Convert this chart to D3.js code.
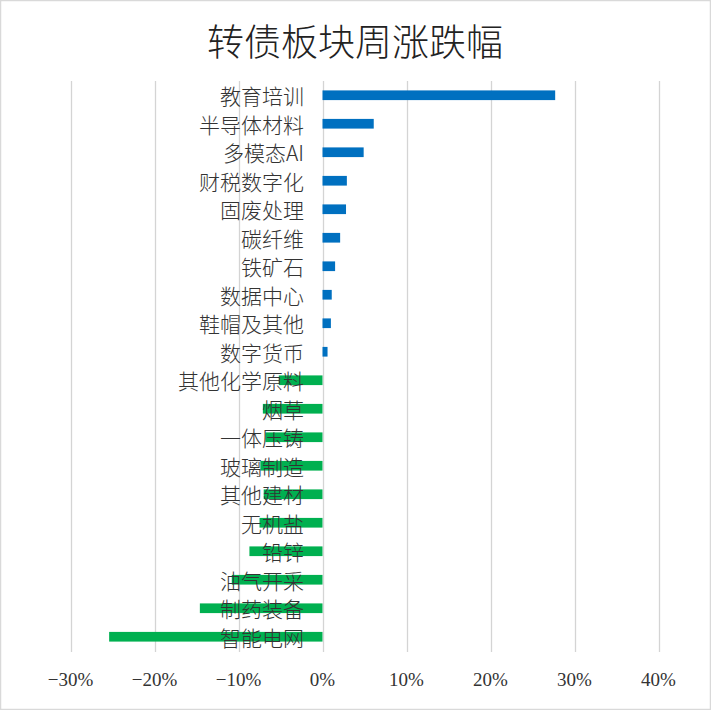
<!DOCTYPE html>
<html>
<head>
<meta charset="utf-8">
<script src="https://cdn.jsdelivr.net/npm/d3@7"></script>
<style>
  html, body { margin: 0; padding: 0; background: #fff; }
  svg { display: block; }
</style>
</head>
<body>
<svg id="chart" width="711" height="710"></svg>
<script>
const title = "转债板块周涨跌幅";
const categories = ["教育培训","半导体材料","多模态AI","财税数字化","固废处理","碳纤维","铁矿石","数据中心","鞋帽及其他","数字货币",
  "其他化学原料","烟草","一体压铸","玻璃制造","其他建材","无机盐","铅锌","油气开采","制药装备","智能电网"];
const values = [27.7, 6.1, 4.9, 2.9, 2.8, 2.1, 1.5, 1.1, 1.0, 0.6,
  -5.2, -7.1, -6.8, -7.4, -7.0, -7.5, -8.7, -10.8, -14.6, -25.4];
const tickValues = [-30, -20, -10, 0, 10, 20, 30, 40];

(function () {
const svg = d3.select("#chart");
const W = 711, H = 710;
const pLeft = 70.5, pRight = 658.5, pTop = 81, pBottom = 651;

svg.append("rect").attr("x", 0.5).attr("y", 0.5).attr("width", W - 1).attr("height", H - 1)
  .attr("fill", "#fff").attr("stroke", "#d9d9d9").attr("stroke-width", 1.5);

const x = d3.scaleLinear().domain([-30, 40]).range([pLeft, pRight]);
const y = d3.scaleBand().domain(categories).range([pTop, pBottom]).paddingInner(0.66).paddingOuter(0.33);

// gridlines
svg.append("g").selectAll("line").data(tickValues).join("line")
  .attr("x1", d => Math.round(x(d)) + 0.5).attr("x2", d => Math.round(x(d)) + 0.5)
  .attr("y1", pTop).attr("y2", pBottom + 1)
  .attr("stroke", "#d4d4d4").attr("stroke-width", 1.3);

// bars
svg.append("g").selectAll("rect").data(categories).join("rect")
  .attr("x", (d, i) => x(Math.min(0, values[i])))
  .attr("y", d => y(d))
  .attr("width", (d, i) => Math.abs(x(values[i]) - x(0)))
  .attr("height", y.bandwidth())
  .attr("fill", (d, i) => values[i] >= 0 ? "#0070C0" : "#00B050");

// category labels
svg.append("g").selectAll("text").data(categories).join("text")
  .attr("x", 304)
  .attr("y", d => y(d) + y.bandwidth() / 2)
  .attr("text-anchor", "end")
  .attr("dominant-baseline", "central")
  .attr("font-family", "'Noto Sans CJK SC', sans-serif")
  .attr("font-weight", 300)
  .attr("font-size", 21)
  .attr("fill", "#333")
  .text(d => d);

// x axis tick labels
const fmt = d => (d < 0 ? "\u2212" : "") + Math.abs(d) + "%";
svg.append("g").selectAll("text").data(tickValues).join("text")
  .attr("x", d => x(d))
  .attr("y", 679)
  .attr("text-anchor", "middle")
  .attr("dominant-baseline", "central")
  .attr("font-family", "'Liberation Serif', serif")
  .attr("font-size", 19)
  .attr("fill", "#333")
  .text(fmt);

// title
svg.append("text")
  .attr("x", 355).attr("y", 40)
  .attr("text-anchor", "middle")
  .attr("dominant-baseline", "central")
  .attr("font-family", "'Noto Sans CJK SC', sans-serif")
  .attr("font-weight", 300)
  .attr("font-size", 37)
  .attr("fill", "#222")
  .text(title);
})();
</script>
</body>
</html>
